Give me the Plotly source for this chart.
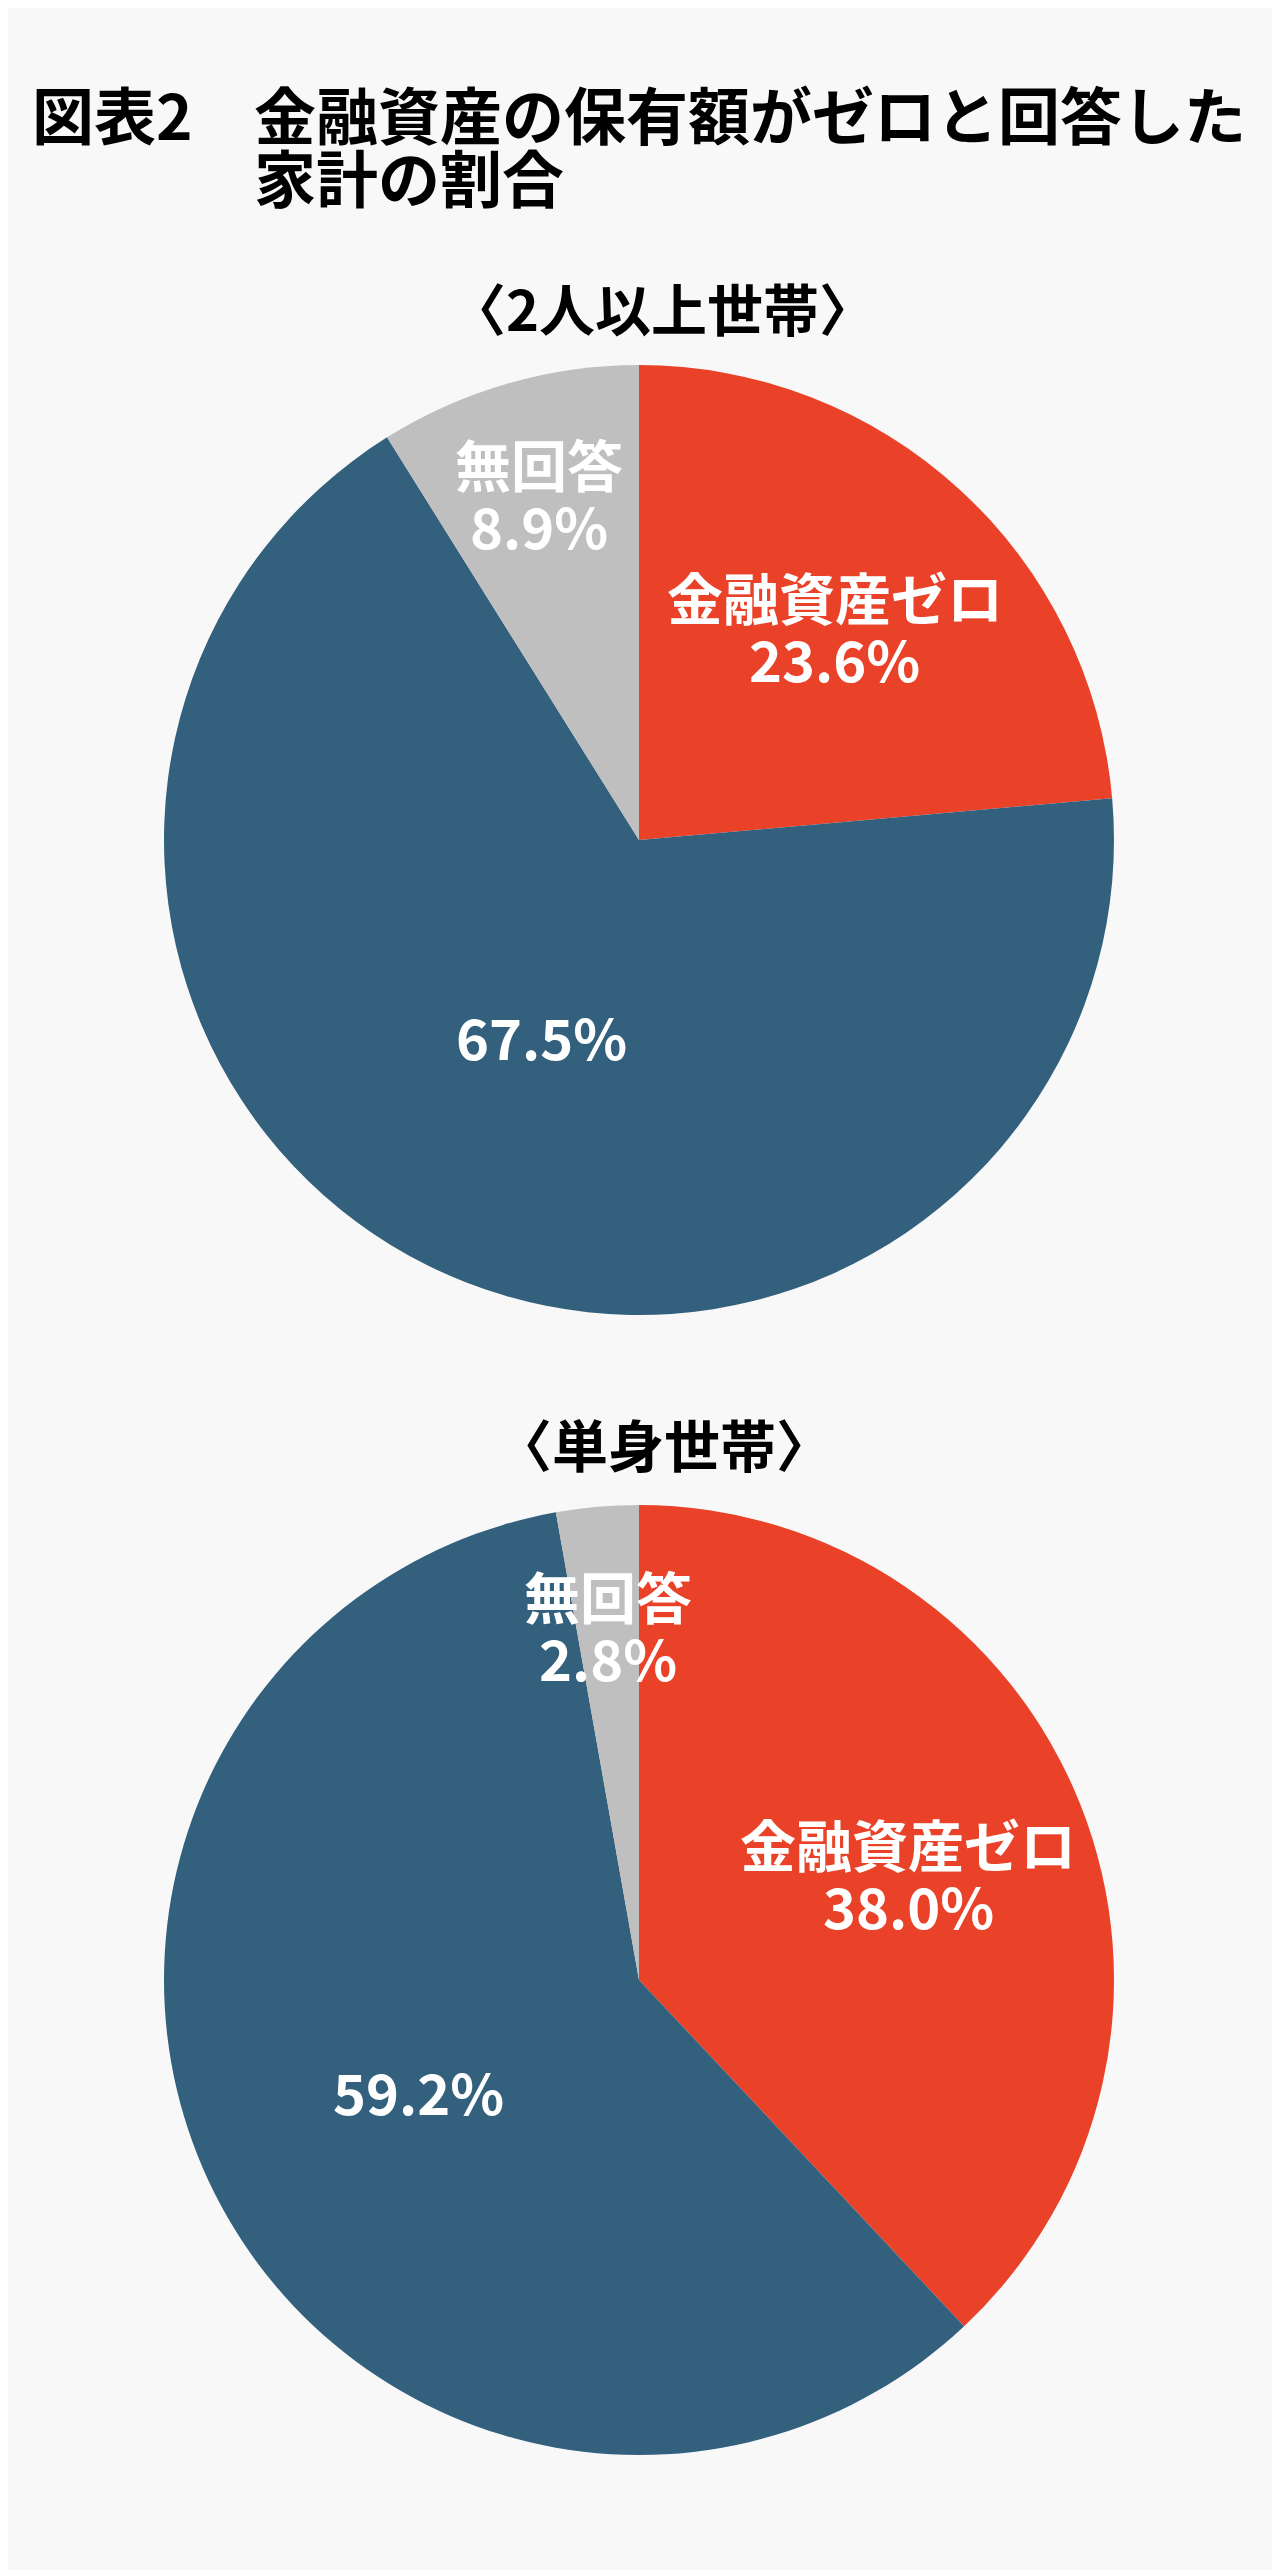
import math
import plotly.graph_objects as go

# データ（%）
categories = ["金融資産ゼロ", "金融資産あり", "無回答"]
multi_values = [23.6, 67.5, 8.9]
single_values = [38.0, 59.2, 2.8]
show_name = [True, False, True]

title_head = "図表2"
title_line1 = "金融資産の保有額がゼロと回答した"
title_line2 = "家計の割合"
sub_multi = "〈2人以上世帯〉"
sub_single = "〈単身世帯〉"

W, H = 1280, 2570
OFF = 8  # ページ本体の余白分
FONT = "Noto Sans CJK JP"
colors = ["#E94228", "#32607D", "#BFBFBF"]

# 円の位置 (px) と半径
cx, radius = 639 - OFF, 475
pies = [
    (multi_values, 840 - OFF, [0.61, 0.46, 0.76]),
    (single_values, 1980 - OFF, [0.61, 0.52, 0.75]),
]


def paper(px, py):
    return px / W, 1 - py / H


fig = go.Figure()
annotations = []

for values, cy, fracs in pies:
    fig.add_trace(go.Pie(
        labels=categories, values=values, sort=False,
        direction="clockwise", rotation=0,
        marker=dict(colors=colors, line=dict(width=0)),
        textinfo="none", hoverinfo="label+percent",
        domain=dict(x=[(cx - radius) / W, (cx + radius) / W],
                    y=[1 - (cy + radius) / H, 1 - (cy - radius) / H]),
        showlegend=False,
    ))
    # ラベルはスライスの中心角に配置
    total = sum(values)
    start = 0.0
    for name, v, show, f in zip(categories, values, show_name, fracs):
        mid = (start + v / 2) / total * 2 * math.pi
        start += v
        px = cx + radius * f * math.sin(mid)
        py = cy - radius * f * math.cos(mid)
        lines = [(name, py - 31), (f"{v:.1f}%", py + 31)] if show else [(f"{v:.1f}%", py)]
        for text, ly in lines:
            x, y = paper(px, ly)
            annotations.append(dict(
                x=x, y=y, xref="paper", yref="paper",
                text=text, showarrow=False, xanchor="center", yanchor="middle",
                font=dict(family=FONT, size=56, color="white", weight="bold"),
            ))


def top_text(text, px, py, size, anchor="left"):
    x, y = paper(px - OFF, py - OFF)
    return dict(x=x, y=y, xref="paper", yref="paper",
                text=text, showarrow=False, xanchor=anchor, yanchor="middle",
                font=dict(family=FONT, size=size, color="black", weight="bold"))


annotations += [
    top_text(title_head, 30, 113, 62),
    top_text(title_line1, 252, 113, 62),
    top_text(title_line2, 252, 176, 62),
    top_text(sub_multi, 662, 306, 56, "center"),
    top_text(sub_single, 664, 1442, 56, "center"),
]

fig.update_layout(
    width=W, height=H,
    margin=dict(l=0, r=0, t=0, b=0),
    paper_bgcolor="#F8F8F8",
    plot_bgcolor="#F8F8F8",
    annotations=annotations,
)

fig.write_html("out.html")
